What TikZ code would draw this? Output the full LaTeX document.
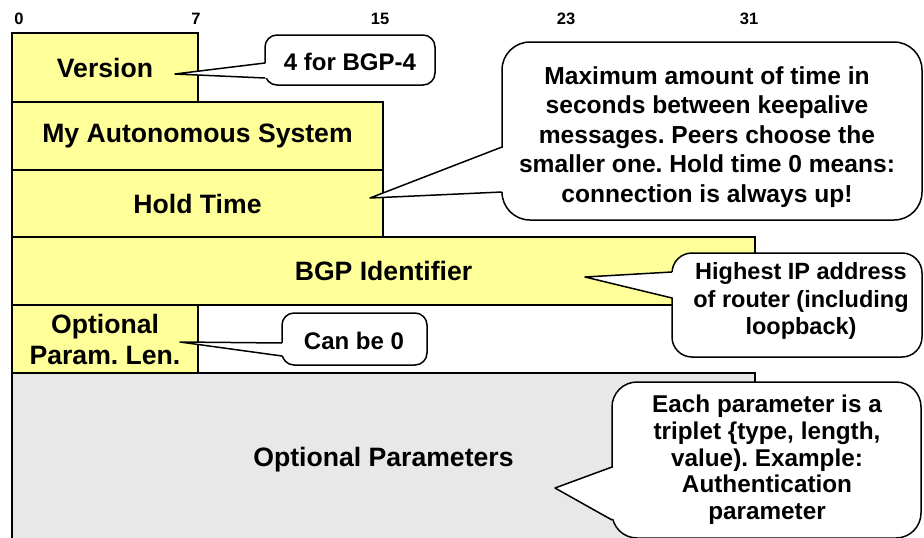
\documentclass[tikz,border=0pt]{standalone}
\usepackage{fontspec}
\setmainfont{Liberation Sans}
\usetikzlibrary{calc}
\definecolor{fieldyellow}{HTML}{FFFF99}
\definecolor{fieldgray}{HTML}{E8E8E8}
\frenchspacing
\begin{document}
\frenchspacing
\begin{tikzpicture}[x=1pt,y=-1pt,
  field/.style={draw=black, line width=1.8pt, fill=fieldyellow, inner sep=0pt, outer sep=0pt,
    font=\fontsize{26.6}{31}\selectfont\bfseries, align=center},
  bitnum/.style={font=\fontsize{16.5}{19}\selectfont\bfseries, inner sep=0pt},
  cbox/.style={draw=black, line width=1.5pt, fill=white, inner sep=0pt, outer sep=0pt},
  cline/.style={draw=black, line width=1.5pt, line join=round},
  ctext/.style={font=\fontsize{24.5}{29}\selectfont\bfseries, align=center, inner sep=0pt}]
\useasboundingbox[fill=white] (0,0) rectangle (924,538);

% bit numbers
\node[bitnum] (b0) at (19,19) {0};
\node[bitnum] (b7) at (196,19) {7};
\node[bitnum] (b15) at (380,19) {15};
\node[bitnum] (b23) at (566,19) {23};
\node[bitnum] (b31) at (749,19) {31};

% fields
\node[field, minimum width=743pt, minimum height=174pt, fill=fieldgray] (opar) at (383.5,460) {Optional Parameters};
\node[field, minimum width=186pt, minimum height=69pt] (ver) at (105,67.5) {\raisebox{-2pt}{Version}};
\node[field, minimum width=371pt, minimum height=68pt] (myas) at (197.5,136) {\raisebox{-1pt}{My Autonomous System}};
\node[field, minimum width=371pt, minimum height=67pt] (hold) at (197.5,203.5) {Hold Time};
\node[field, minimum width=743pt, minimum height=68pt] (bgpid) at (383.5,271) {BGP Identifier};
\node[field, minimum width=186pt, minimum height=68pt] (oplen) at (105,339) {Optional\\Param. Len.};

% callout: 4 for BGP-4
\node[cbox, rounded corners=12pt, minimum width=170pt, minimum height=50pt] (cver) at (350,60) {};
\coordinate (vtip) at (175,74);
\coordinate (vb1) at (cver.west |- 0,63);
\coordinate (vb2) at (cver.west |- 0,78);
\fill[white] (vtip) -- ($(vb1)+(3,0)$) -- ($(vb2)+(3,0)$) -- cycle;
\draw[cline] (vb1) -- (vtip) -- (vb2);
\node[ctext, font=\fontsize{24}{29}\selectfont\bfseries] (tver) at (350,62) {4 for BGP-4};

% callout: hold time
\node[cbox, rounded corners=28pt, minimum width=420pt, minimum height=178pt] (chold) at (712,131) {};
\coordinate (htip) at (370,198);
\coordinate (hb1) at (chold.west |- 0,147);
\coordinate (hb2) at (chold.west |- 0,192);
\fill[white] (htip) -- ($(hb1)+(3,0)$) -- ($(hb2)+(3,0)$) -- cycle;
\draw[cline] (hb1) -- (htip) -- (hb2);
\node[ctext, font=\fontsize{24.6}{29.5}\selectfont\bfseries] (thold) at (707,137) {Maximum amount of time in\\seconds between keepalive\\messages. Peers choose the\\smaller one. Hold time 0 means:\\connection is always up!};

% callout: BGP identifier
\node[cbox, rounded corners=20pt, minimum width=250pt, minimum height=104pt] (cid) at (797,305) {};
\coordinate (itip) at (585,277);
\coordinate (ib1) at (cid.west |- 0,272);
\coordinate (ib2) at (cid.west |- 0,298);
\fill[white] (itip) -- ($(ib1)+(3,0)$) -- ($(ib2)+(3,0)$) -- cycle;
\draw[cline] (ib1) -- (itip) -- (ib2);
\node[ctext, font=\fontsize{23.5}{27.5}\selectfont\bfseries] (tid) at (801,301) {Highest IP address\\of router (including\\loopback)};

% callout: can be 0
\node[cbox, rounded corners=12pt, minimum width=145pt, minimum height=52pt] (clen) at (354.5,339) {};
\coordinate (ltip) at (180,342);
\coordinate (lb1) at (clen.west |- 0,343);
\coordinate (lb2) at (clen.west |- 0,356);
\fill[white] (ltip) -- ($(lb1)+(3,0)$) -- ($(lb2)+(3,0)$) -- cycle;
\draw[cline] (lb1) -- (ltip) -- (lb2);
\node[ctext, font=\fontsize{24}{29}\selectfont\bfseries] (tlen) at (354,341) {Can be 0};

% callout: optional parameters
\node[cbox, rounded corners=25pt, minimum width=309pt, minimum height=156pt] (cpar) at (766.5,460) {};
\coordinate (ptip) at (555,488);
\coordinate (pb1) at (cpar.west |- 0,467);
\coordinate (pb2) at (cpar.west |- 0,520);
\fill[white] (ptip) -- ($(pb1)+(3,0)$) -- ($(pb2)+(3,0)$) -- cycle;
\draw[cline] (pb1) -- (ptip) -- (pb2);
\node[ctext, font=\fontsize{24.3}{26.7}\selectfont\bfseries] (tpar) at (767,460) {Each parameter is a\\triplet \{type, length,\\value). Example:\\Authentication\\parameter};
\end{tikzpicture}
\end{document}
